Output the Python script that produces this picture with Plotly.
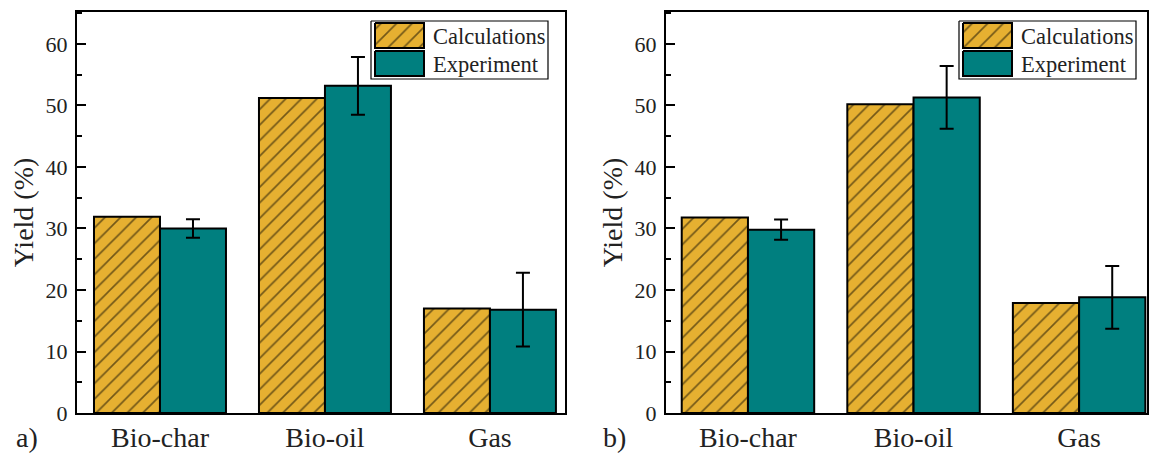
import plotly.graph_objects as go

# ---- data -------------------------------------------------------------
categories = ["Bio-char", "Bio-oil", "Gas"]

a_calc = [31.9, 51.2, 17.0]
a_exp = [30.0, 53.2, 16.8]
a_exp_err = [1.5, 4.7, 6.0]

b_calc = [31.8, 50.2, 17.9]
b_exp = [29.8, 51.3, 18.8]
b_exp_err = [1.65, 5.1, 5.1]

series_names = ["Calculations", "Experiment"]
panel_labels = ["a)", "b)"]

# ---- style ------------------------------------------------------------
W, H = 1150, 455
FONT = "Liberation Serif, Times New Roman, serif"
GOLD = "#E6B031"
TEAL = "#007F7F"
HATCH = dict(shape="/", fgcolor="black", bgcolor=GOLD, size=11, solidity=0.15)

fig = go.Figure()


def px_dom_x(l, r):
    return [l / W, r / W]


def px_dom_y(t, b):
    return [(H - b) / H, (H - t) / H]


panels = [(a_calc, a_exp, a_exp_err), (b_calc, b_exp, b_exp_err)]
for i, (calc, exp, err) in enumerate(panels):
    xa = "x" if i == 0 else "x2"
    ya = "y" if i == 0 else "y2"
    fig.add_trace(go.Bar(
        x=categories, y=calc, name=series_names[0], xaxis=xa, yaxis=ya,
        offsetgroup="c", showlegend=False,
        marker=dict(color=GOLD, pattern=HATCH, line=dict(color="black", width=2)),
    ))
    fig.add_trace(go.Bar(
        x=categories, y=exp, name=series_names[1], xaxis=xa, yaxis=ya,
        offsetgroup="e", showlegend=False,
        marker=dict(color=TEAL, line=dict(color="black", width=2)),
        error_y=dict(type="data", array=err, visible=True, color="black",
                     thickness=2, width=7),
    ))

# ---- legend boxes drawn on a full-figure pixel overlay ------------------
def rect(x0, y0, x1, y1):
    return [x0, x1, x1, x0, x0], [y0, y0, y1, y1, y0]


legend_offsets = [0, 588]
for dx in legend_offsets:
    bx, by = rect(371 + dx, 21, 548 + dx, 79)
    fig.add_trace(go.Scatter(
        x=bx, y=by, xaxis="x3", yaxis="y3", mode="lines", fill="toself",
        fillcolor="white", line=dict(color="black", width=1.2),
        showlegend=False, hoverinfo="skip",
    ))
    sx, sy = rect(375 + dx, 23, 424 + dx, 48)
    fig.add_trace(go.Scatter(
        x=sx, y=sy, xaxis="x3", yaxis="y3", mode="lines", fill="toself",
        fillcolor=GOLD, fillpattern=HATCH, line=dict(color="black", width=2),
        showlegend=False, hoverinfo="skip",
    ))
    sx, sy = rect(375 + dx, 51, 424 + dx, 76)
    fig.add_trace(go.Scatter(
        x=sx, y=sy, xaxis="x3", yaxis="y3", mode="lines", fill="toself",
        fillcolor=TEAL, line=dict(color="black", width=2),
        showlegend=False, hoverinfo="skip",
    ))
    for name, yc in zip(series_names, [36, 64]):
        fig.add_annotation(
            x=431 + dx, y=yc, xref="x3", yref="y3", text=name, showarrow=False,
            xanchor="left", yanchor="middle",
            font=dict(family=FONT, size=22.5, color="#222"),
        )

for lbl, xc in zip(panel_labels, [27, 614]):
    fig.add_annotation(
        x=xc, y=437, xref="x3", yref="y3", text=lbl, showarrow=False,
        xanchor="center", yanchor="middle",
        font=dict(family=FONT, size=28, color="#222"),
    )

# ---- axes --------------------------------------------------------------
common_y = dict(
    range=[0, 65.2], dtick=10, tick0=0, ticks="inside", ticklen=9, tickwidth=2,
    tickcolor="black", showline=True, linecolor="black", linewidth=2,
    mirror=True, showgrid=False, zeroline=False, automargin=False,
    minor=dict(dtick=5, ticks="inside", ticklen=5, tickwidth=2, tickcolor="black"),
    tickfont=dict(family=FONT, size=22, color="#222"),
    title=dict(text="Yield (%)", font=dict(family=FONT, size=28, color="#222"),
               standoff=4),
    ticklabelstandoff=3,
)
common_x = dict(
    type="category", showline=True, linecolor="black", linewidth=2, mirror=True,
    ticks="", showgrid=False, zeroline=False, automargin=False,
    tickfont=dict(family=FONT, size=28, color="#222"),
    ticklabelstandoff=-2,
)

fig.update_layout(
    width=W, height=H,
    margin=dict(l=0, r=0, t=0, b=0),
    paper_bgcolor="white", plot_bgcolor="rgba(0,0,0,0)",
    barmode="group", bargap=0.2, bargroupgap=0,
    showlegend=False,
    xaxis=dict(common_x, domain=px_dom_x(77, 565), range=[-0.503, 2.455], anchor="y"),
    yaxis=dict(common_y, domain=px_dom_y(12, 413), anchor="x"),
    xaxis2=dict(common_x, domain=px_dom_x(666, 1147), range=[-0.495, 2.41], anchor="y2"),
    yaxis2=dict(common_y, domain=px_dom_y(12, 413), anchor="x2"),
    xaxis3=dict(domain=[0, 1], range=[0, W], visible=False, fixedrange=True, anchor="y3"),
    yaxis3=dict(domain=[0, 1], range=[H, 0], visible=False, fixedrange=True, anchor="x3"),
)

fig.write_html("out.html")
